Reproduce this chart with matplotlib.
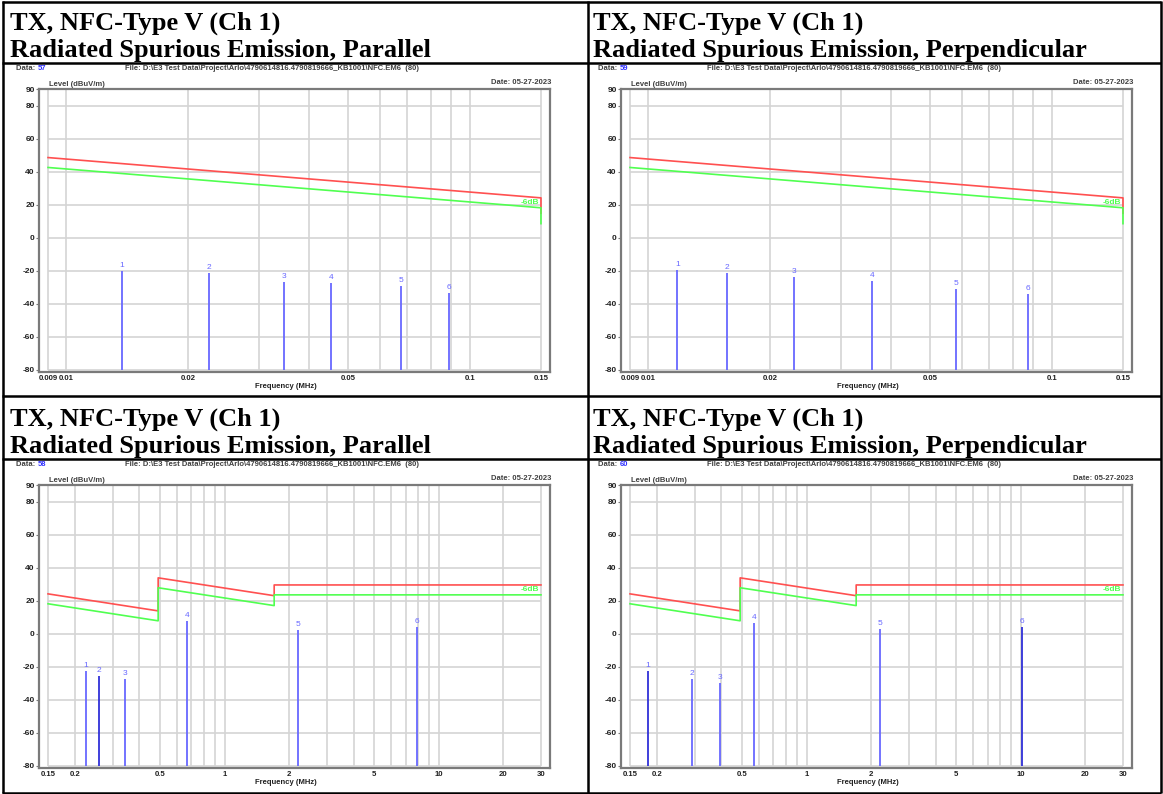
import math
import matplotlib
matplotlib.use("Agg")
import matplotlib.pyplot as plt
from matplotlib.ticker import FixedLocator, NullLocator

W, H = 1163, 794

# ---------------- data ----------------
titles_line1 = ["TX, NFC-Type V (Ch 1)"] * 4
titles_line2 = ["Radiated Spurious Emission, Parallel",
                "Radiated Spurious Emission, Perpendicular",
                "Radiated Spurious Emission, Parallel",
                "Radiated Spurious Emission, Perpendicular"]
data_ids = ["57", "59", "58", "60"]
file_text = r"File: D:\E3 Test Data\Project\Arlo\4790614816.4790819666_KB1001\NFC.EM6  (80)"
date_text = "Date: 05-27-2023"

# low band (9 kHz - 150 kHz)
low_limit_f = [0.009, 0.15, 0.15]
low_limit_red = [48.5, 24.1, 14.8]
low_limit_green = [42.5, 18.1, 8.5]

# high band (150 kHz - 30 MHz)
high_limit_f = [0.15, 0.49, 0.49, 1.705, 1.705, 30.0]
high_limit_red = [24.1, 13.8, 33.8, 23.0, 29.5, 29.5]
high_limit_green = [18.1, 7.8, 27.8, 17.0, 23.5, 23.5]

# peaks
p57_f = [0.0137, 0.0226, 0.0346, 0.0453, 0.0673, 0.0886]
p57_l = [-20.1, -21.5, -27.0, -27.6, -29.5, -33.6]
p59_f = [0.0118, 0.01565, 0.0230, 0.0359, 0.0580, 0.0871]
p59_l = [-19.5, -21.5, -24.0, -26.5, -31.2, -34.0]
p58_f = [0.2254, 0.2604, 0.3423, 0.6676, 2.20, 7.90]
p58_l = [-22.8, -25.8, -27.5, 7.7, 2.2, 4.0]
p60_f = [0.1814, 0.2917, 0.3954, 0.5704, 2.20, 10.15]
p60_l = [-22.5, -27.5, -30.1, 6.3, 3.1, 4.0]
peak_labels = ["1", "2", "3", "4", "5", "6"]

y_ticks = [90, 80, 60, 40, 20, 0, -20, -40, -60, -80]
y_grid = [80, 60, 40, 20, 0, -20, -40, -60, -80]
low_xticks = [0.009, 0.01, 0.02, 0.05, 0.1, 0.15]
low_xticklabels = ["0.009", "0.01", "0.02", "0.05", "0.1", "0.15"]
low_xgrid = [0.009, 0.01, 0.02, 0.03, 0.04, 0.05, 0.06, 0.07, 0.08, 0.09, 0.1, 0.15]
high_xticks = [0.15, 0.2, 0.5, 1, 2, 5, 10, 20, 30]
high_xticklabels = ["0.15", "0.2", "0.5", "1", "2", "5", "10", "20", "30"]
high_xgrid = [0.15, 0.2, 0.3, 0.4, 0.5, 0.6, 0.7, 0.8, 0.9, 1, 2, 3, 4, 5, 6, 7, 8, 9, 10, 20, 30]

# ---------------- style ----------------
RED = "#ff5050"
GREEN = "#50ff50"
BLUE = "#6868ff"
DBLUE = "#3030d8"
GRID = "#d4d4d4"
FRAME = "#7a7a7a"
TXT = "#202020"
HDR = "#404040"
SMALL = ["Liberation Sans", "DejaVu Sans"]
SERIF = ["Liberation Serif", "DejaVu Serif"]
FS_HDR = 5.5
FS_TICK = 6.0
FS_XTICK = 5.6
TITLE_FS = 19

fig = plt.figure(figsize=(W / 100, H / 100), dpi=100)
bg = fig.add_axes([0, 0, 1, 1])
bg.set_xlim(0, W)
bg.set_ylim(H, 0)
bg.axis("off")

# table borders
lw_b = 1.8
for y in [1.5, 62.5, 396, 458.5, 792.5]:
    bg.plot([2, 1161], [y, y], color="black", lw=lw_b, solid_capstyle="butt")
for x in [2.5, 588, 1161]:
    bg.plot([x, x], [1, 793], color="black", lw=lw_b, solid_capstyle="butt")

panels = [
    dict(ox=0, oy=0, low=True, f=p57_f, l=p57_l, did=data_ids[0], t1=titles_line1[0], t2=titles_line2[0],
         colors=[BLUE] * 6),
    dict(ox=582, oy=0, low=True, f=p59_f, l=p59_l, did=data_ids[1], t1=titles_line1[1], t2=titles_line2[1],
         colors=[BLUE] * 6),
    dict(ox=0, oy=396, low=False, f=p58_f, l=p58_l, did=data_ids[2], t1=titles_line1[2], t2=titles_line2[2],
         colors=[BLUE, DBLUE, BLUE, BLUE, BLUE, BLUE]),
    dict(ox=582, oy=396, low=False, f=p60_f, l=p60_l, did=data_ids[3], t1=titles_line1[3], t2=titles_line2[3],
         colors=[DBLUE, BLUE, BLUE, BLUE, BLUE, DBLUE]),
]

for p in panels:
    ox, oy = p["ox"], p["oy"]
    tx = 10 if ox == 0 else 593
    # titles
    bg.text(tx, oy + 29.5, p["t1"], fontsize=TITLE_FS, fontweight="bold", family=SERIF,
            ha="left", va="baseline", color="black")
    bg.text(tx, oy + 57.5, p["t2"], fontsize=TITLE_FS, fontweight="bold", family=SERIF,
            ha="left", va="baseline", color="black")
    # header
    hx = 16 + ox
    t = bg.text(hx, oy + 69, "Data: ", fontsize=FS_HDR, fontweight="bold", family=SMALL,
                ha="left", va="center", color=HDR)
    bg.annotate(p["did"], xycoords=t, xy=(1, 0.5), va="center", ha="left",
                fontsize=FS_HDR, fontweight="bold", family=SMALL, color="#3030ff")
    bg.text(125 + ox, oy + 69, file_text, fontsize=FS_HDR, fontweight="bold", family=SMALL,
            ha="left", va="center", color=HDR)
    bg.text(551 + ox, oy + 82, date_text, fontsize=FS_HDR, fontweight="bold", family=SMALL,
            ha="right", va="center", color=HDR)
    bg.text(49 + ox, oy + 86, "Level (dBuV/m)", fontsize=FS_HDR, fontweight="bold", family=SMALL,
            ha="left", va="baseline", color=HDR)
    bg.text(286 + ox, oy + 386, "Frequency (MHz)", fontsize=FS_HDR, fontweight="bold", family=SMALL,
            ha="center", va="center", color=TXT)

    # axes
    left, right = 39 + ox, 550 + ox
    top, bottom = 89 + oy, 372 + oy
    ax = fig.add_axes([left / W, 1 - bottom / H, (right - left) / W, (bottom - top) / H])
    ax.set_facecolor("white")
    ax.set_xscale("log")
    if p["low"]:
        fmin, fmax = 0.009, 0.15
        lf, lr, lg = low_limit_f, low_limit_red, low_limit_green
        xt, xtl, xg = low_xticks, low_xticklabels, low_xgrid
    else:
        fmin, fmax = 0.15, 30.0
        lf, lr, lg = high_limit_f, high_limit_red, high_limit_green
        xt, xtl, xg = high_xticks, high_xticklabels, high_xgrid
    dec = math.log10(fmax / fmin)
    pad = dec * 9.0 / 492.0
    ax.set_xlim(fmin / 10 ** pad, fmax * 10 ** pad)
    ax.set_ylim(-81.3, 90)

    ax.hlines(y_grid, fmin, fmax, color=GRID, lw=1.2, zorder=1)
    ax.vlines(xg, -80, 90, color=GRID, lw=1.2, zorder=1)

    ax.plot(lf, lr, color=RED, lw=1.2, zorder=3)
    ax.plot(lf, lg, color=GREEN, lw=1.2, zorder=3)
    ax.text(fmax / 10 ** (dec * 2 / 492), lg[-2] + 1.0, "-6dB", fontsize=FS_TICK, fontweight="bold",
            family=SMALL, color=GREEN, ha="right", va="bottom", zorder=4)

    for fq, lv, lab, c in zip(p["f"], p["l"], peak_labels, p["colors"]):
        ax.vlines(fq, -80, lv, color=c, lw=1.3, zorder=4)
        ax.text(fq, lv + 1.2, lab, fontsize=FS_TICK, family=SMALL, color=BLUE,
                ha="center", va="bottom", zorder=5)

    for s in ax.spines.values():
        s.set_color(FRAME)
        s.set_linewidth(1.6)
    ax.xaxis.set_major_locator(FixedLocator(xt))
    ax.xaxis.set_minor_locator(NullLocator())
    ax.set_xticklabels(xtl)
    ax.set_yticks(y_ticks)
    ax.set_yticklabels([str(v) for v in y_ticks])
    ax.tick_params(axis="y", labelsize=FS_TICK, colors=TXT, length=2, color=FRAME, pad=1)
    ax.tick_params(axis="x", which="both", labelsize=FS_XTICK, colors=TXT, length=0, pad=2)
    for lbl in ax.get_xticklabels() + ax.get_yticklabels():
        lbl.set_fontweight("bold")
        lbl.set_family(SMALL)

fig.savefig("out.png", dpi=100)
